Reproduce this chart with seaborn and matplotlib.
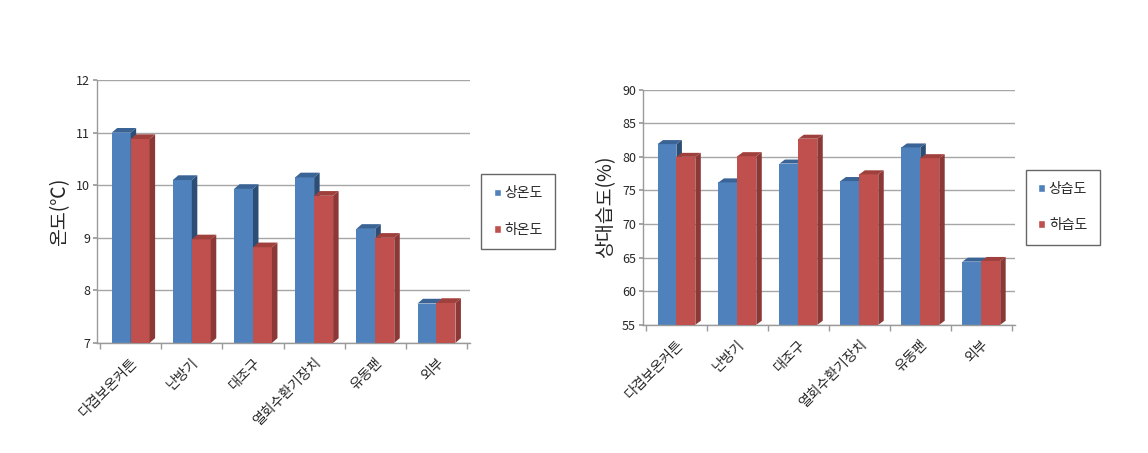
import numpy as np
import pandas as pd
import seaborn as sns
import matplotlib.pyplot as plt
from matplotlib.patches import Polygon, Rectangle

# 데이터
places = ['다겹보온커튼', '난방기', '대조구', '열회수환기장치', '유동팬', '외부']
temp_hi = [11.0, 10.1, 9.93, 10.15, 9.17, 7.75]
temp_lo = [10.88, 8.97, 8.82, 9.8, 9.0, 7.76]
hum_hi = [81.9, 76.2, 79.0, 76.4, 81.4, 64.4]
hum_lo = [80.0, 80.1, 82.7, 77.4, 79.8, 64.5]

blue, red = '#4F81BD', '#C0504D'
blue_dk, red_dk = '#2C4D75', '#8C3836'
blue_top, red_top = '#3A6496', '#A0403D'

sns.set_theme(style='white')
plt.rcParams['font.family'] = ['Noto Sans CJK KR', 'DejaVu Sans']

fig = plt.figure(figsize=(11.48, 4.53), dpi=100)
ax1 = fig.add_axes([0.0845, 0.243, 0.325, 0.58])
ax2 = fig.add_axes([0.560, 0.283, 0.324, 0.519])


def draw(ax, hi, lo, names, ylim, step, ylabel, dy):
    df = pd.DataFrame({'place': places * 2,
                       'val': hi + lo,
                       'kind': [names[0]] * 6 + [names[1]] * 6})
    sns.barplot(data=df, x='place', y='val', hue='kind', palette=[blue, red],
                width=0.62, ax=ax, legend=False, saturation=1, bottom=0)
    ax.set_ylim(*ylim)
    base = ylim[0]
    dx = 0.09
    for i, p in enumerate(ax.patches[:12]):
        grp = i // 6
        x0 = p.get_x(); x1 = x0 + p.get_width(); h = p.get_height()
        p.set_y(base); p.set_height(h - base)
        p.set_zorder(2 + grp); p.set_edgecolor('none')
        side = Polygon([(x1, base), (x1 + dx, base + dy), (x1 + dx, h + dy), (x1, h)],
                       closed=True, fc=[blue_dk, red_dk][grp], ec='none', zorder=2.5 + grp)
        top = Polygon([(x0, h), (x0 + dx, h + dy), (x1 + dx, h + dy), (x1, h)],
                      closed=True, fc=[blue_top, red_top][grp], ec='none', zorder=2.5 + grp)
        ax.add_patch(side); ax.add_patch(top)
    ax.set_xlim(-0.55, 5.55)
    ax.set_yticks(np.arange(ylim[0], ylim[1] + 0.01, step))
    ax.yaxis.grid(True, color='#A6A6A6', lw=1)
    ax.set_axisbelow(True)
    for s in ['top', 'right']:
        ax.spines[s].set_visible(False)
    for s in ['left', 'bottom']:
        ax.spines[s].set_color('#9A9A9A')
        ax.spines[s].set_linewidth(1)
    ax.tick_params(axis='y', labelsize=9, length=3, color='#9A9A9A', left=True, pad=2)
    ax.set_xticks(range(6))
    ax.set_xticklabels(places, rotation=45, ha='right', rotation_mode='anchor', fontsize=10)
    ax.tick_params(axis='x', length=0, pad=9)
    ax.set_xticks(np.arange(-0.5, 6, 1), minor=True)
    ax.tick_params(axis='x', which='minor', length=4, color='#9A9A9A', bottom=True)
    ax.set_xlabel('')
    ax.set_ylabel(ylabel, fontsize=14)
    handles = [Rectangle((0, 0), 1, 1, fc=blue), Rectangle((0, 0), 1, 1, fc=red)]
    return handles


h1 = draw(ax1, temp_hi, temp_lo, ['상온도', '하온도'], (7, 12), 1, '온도(℃)', 0.09)
h2 = draw(ax2, hum_hi, hum_lo, ['상습도', '하습도'], (55, 90), 5, '상대습도(%)', 0.6)

for ax, h, names in [(ax1, h1, ['상온도', '하온도']), (ax2, h2, ['상습도', '하습도'])]:
    leg = ax.legend(h, names, loc='center left', bbox_to_anchor=(1.03, 0.5),
                    fontsize=10, frameon=True, fancybox=False, handlelength=0.5,
                    handleheight=0.5, handletextpad=0.25, labelspacing=1.6,
                    borderpad=0.9, borderaxespad=0)
    leg.get_frame().set_edgecolor('#404040')

fig.savefig('out.png', dpi=100)
